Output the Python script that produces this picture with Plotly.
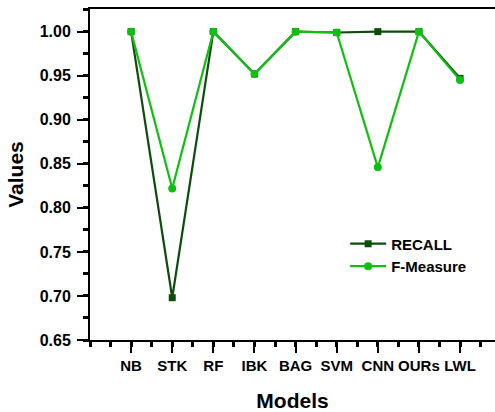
import plotly.graph_objects as go

models = ["NB", "STK", "RF", "IBK", "BAG", "SVM", "CNN", "OURs", "LWL"]
recall = [1.000, 0.698, 1.000, 0.952, 1.000, 0.999, 1.000, 1.000, 0.947]
f_measure = [1.000, 0.822, 1.000, 0.952, 1.000, 0.999, 0.846, 1.000, 0.945]
y_ticks = [0.65, 0.70, 0.75, 0.80, 0.85, 0.90, 0.95, 1.00]
y_tick_labels = ["0.65", "0.70", "0.75", "0.80", "0.85", "0.90", "0.95", "1.00"]

xpos = list(range(1, len(models) + 1))
FONT = "Liberation Sans, Arial, sans-serif"

fig = go.Figure()
fig.add_trace(go.Scatter(
    x=xpos, y=recall, name="RECALL", mode="lines+markers",
    line=dict(color="#0b4d0b", width=2.2),
    marker=dict(symbol="square", size=7, color="#0b4d0b"),
))
fig.add_trace(go.Scatter(
    x=xpos, y=f_measure, name="F-Measure", mode="lines+markers",
    line=dict(color="#10c010", width=2.2),
    marker=dict(symbol="circle", size=8, color="#10c010"),
))

fig.update_layout(
    width=495, height=412,
    margin=dict(l=90, r=0, t=9, b=72),
    plot_bgcolor="white", paper_bgcolor="white",
    font=dict(family=FONT, color="black", size=15, weight="bold"),
    legend=dict(
        x=0.63, y=0.34, xanchor="left", yanchor="top",
        bgcolor="rgba(0,0,0,0)", borderwidth=0,
        font=dict(family=FONT, size=15, weight="bold"),
        tracegroupgap=0, itemwidth=36,
    ),
    xaxis=dict(
        range=[0, 9.85],
        tickmode="array", tickvals=xpos, ticktext=models,
        showline=True, linecolor="black", linewidth=2, mirror=True,
        ticks="outside", ticklen=11, tickwidth=2, tickcolor="black",
        minor=dict(dtick=0.5, tick0=0.5, ticks="outside", ticklen=5, tickwidth=3, tickcolor="black"),
        showgrid=False, zeroline=False,
        tickfont=dict(family=FONT, size=15, weight="bold"),
        title=dict(text="Models", font=dict(family=FONT, size=21, weight="bold"), standoff=20),
    ),
    yaxis=dict(
        range=[0.65, 1.0257],
        tickmode="array", tickvals=y_ticks, ticktext=y_tick_labels,
        showline=True, linecolor="black", linewidth=2,
        ticks="outside", ticklen=11, tickwidth=2, tickcolor="black",
        minor=dict(dtick=0.025, tick0=0.65, ticks="outside", ticklen=5, tickwidth=3, tickcolor="black"),
        showgrid=False, zeroline=False,
        ticklabelstandoff=3,
        tickfont=dict(family=FONT, size=16, weight="bold"),
        title=dict(text="Values", font=dict(family=FONT, size=21, weight="bold"), standoff=10),
    ),
)

fig.write_html("out.html")
